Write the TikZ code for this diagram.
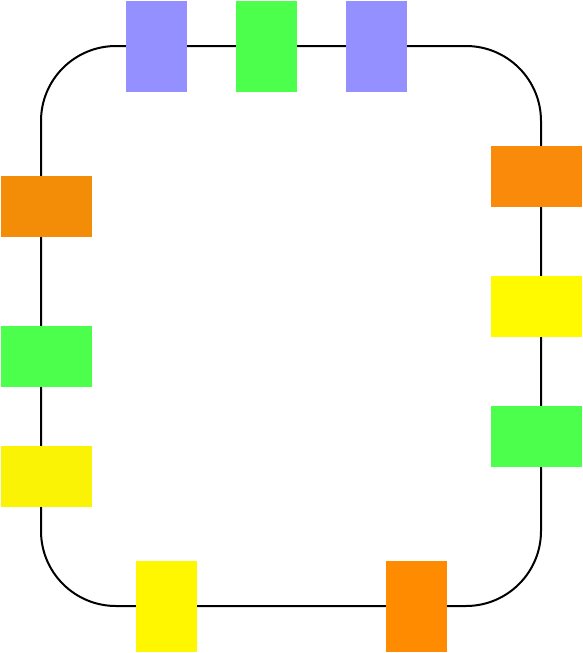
\documentclass[tikz,border=0pt]{standalone}
\definecolor{cpurple}{HTML}{9590FF}
\definecolor{cgreen}{HTML}{4CFF4C}
\definecolor{corangeL}{HTML}{F38D08}
\definecolor{corangeR}{HTML}{F98A0A}
\definecolor{corangeB}{HTML}{FF8C00}
\definecolor{cyellowL}{HTML}{FBF306}
\definecolor{cyellowR}{HTML}{FFFA00}
\definecolor{cyellowB}{HTML}{FFF700}
\tikzset{
  blk/.style={inner sep=0pt, outer sep=0pt, anchor=north west, draw=none},
  vblk/.style={blk, minimum width=61pt, minimum height=91pt},
  hblk/.style={blk, minimum width=91pt, minimum height=61pt},
  frame/.style={line width=2pt, rounded corners=75pt}
}
\begin{document}
\begin{tikzpicture}[x=1pt,y=-1pt]
\useasboundingbox (0,0) rectangle (583,653);
\draw[frame] (41,46) rectangle (541,606);
% top
\node[vblk, fill=cpurple] (t1) at (126,1) {};
\node[vblk, fill=cgreen] (t2) at (236,1) {};
\node[vblk, fill=cpurple] (t3) at (346,1) {};
% left
\node[hblk, fill=corangeL] (l1) at (1,176) {};
\node[hblk, fill=cgreen] (l2) at (1,326) {};
\node[hblk, fill=cyellowL] (l3) at (1,446) {};
% right
\node[hblk, fill=corangeR] (r1) at (491,146) {};
\node[hblk, fill=cyellowR] (r2) at (491,276) {};
\node[hblk, fill=cgreen] (r3) at (491,406) {};
% bottom
\node[vblk, fill=cyellowB] (b1) at (136,561) {};
\node[vblk, fill=corangeB] (b2) at (386,561) {};
\end{tikzpicture}
\end{document}
